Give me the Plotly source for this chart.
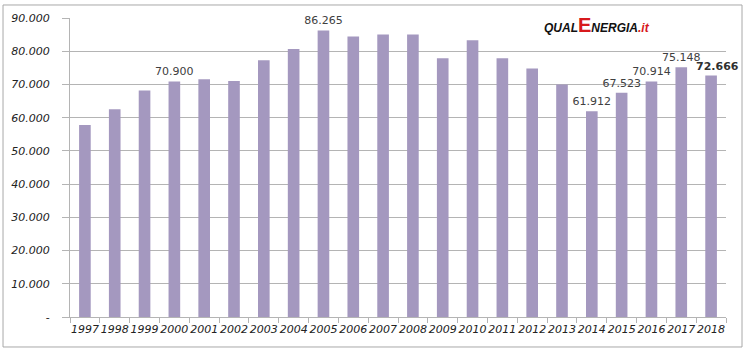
import plotly.graph_objects as go

years = [str(y) for y in range(1997, 2019)]
values = [57800, 62500, 68200, 70900, 71600, 71000, 77300, 80700, 86265, 84400,
          85000, 85000, 77900, 83300, 77900, 74800, 70000, 61912, 67523, 70914,
          75148, 72666]
labelled = ["2000", "2005", "2014", "2015", "2016", "2017"]
bold_years = ["2018"]
y_ticks = [0, 10000, 20000, 30000, 40000, 50000, 60000, 70000, 80000, 90000]


def fmt(v):
    return f"{v:,.0f}".replace(",", ".")


texts = [fmt(v) if yr in labelled else "" for yr, v in zip(years, values)]

y_ticktext = ["-" if v == 0 else f"<i>{fmt(v)}</i>" for v in y_ticks]
x_ticktext = [f"<i>{y}</i>" for y in years]

fig = go.Figure()
fig.add_trace(go.Bar(
    x=years, y=values, text=texts, textposition="outside",
    constraintext="none",
    textfont=dict(family="DejaVu Sans", size=11, color="#404040"),
    marker=dict(color="#a498bf", line=dict(width=0)),
    cliponaxis=False, hoverinfo="skip",
))

annotations = []
for i, (yr, v) in enumerate(zip(years, values)):
    if yr in bold_years:
        annotations.append(dict(
            x=i, y=v, xref="x", yref="y", text=f"<b>{fmt(v)}</b>",
            showarrow=False, yanchor="bottom", xanchor="center",
            xshift=6, yshift=1,
            font=dict(family="DejaVu Sans", size=11, color="#303030"),
        ))

annotations.append(dict(
    xref="paper", yref="paper", x=0.72, y=0.975, xanchor="left", yanchor="middle",
    showarrow=False,
    text=("<span style='font-family:Liberation Sans;font-weight:bold;font-style:italic;font-size:12px;color:#111'>QUAL</span>"
          "<span style='font-family:Liberation Sans;font-weight:bold;font-size:20px;color:#d7191c'>E</span>"
          "<span style='font-family:Liberation Sans;font-weight:bold;font-style:italic;font-size:12px;color:#111'>NERGIA</span>"
          "<span style='font-family:Liberation Sans;font-weight:bold;font-style:italic;font-size:12px;color:#d7191c'>.it</span>"),
))

grid = "#b4b4b4"
fig.update_layout(
    width=748, height=352,
    margin=dict(l=70, r=22, t=18, b=35),
    paper_bgcolor="white", plot_bgcolor="white",
    bargap=0.61, showlegend=False,
    font=dict(family="DejaVu Sans", size=11, color="#222222"),
    xaxis=dict(
        type="category", categoryorder="array", categoryarray=years,
        range=[-0.5, len(years) - 0.5],
        showgrid=False, showline=True, linecolor=grid,
        tickvals=years, ticktext=x_ticktext, tickangle=0,
        ticks="outside", tickson="boundaries", ticklen=5, tickcolor=grid,
        tickfont=dict(family="DejaVu Sans", size=11, color="#222222"),
        ticklabelstandoff=2,
    ),
    yaxis=dict(
        range=[0, 90000], tickvals=y_ticks, ticktext=y_ticktext,
        showgrid=True, gridcolor=grid, gridwidth=1,
        showline=True, linecolor=grid, zeroline=False,
        ticks="outside", ticklen=7, tickcolor=grid,
        tickfont=dict(family="DejaVu Sans", size=11, color="#222222"),
        ticklabelstandoff=10,
    ),
    shapes=[dict(type="rect", xref="paper", yref="paper",
                 x0=-0.1021, x1=1.0244, y0=-0.1003, y1=1.0435,
                 line=dict(color="#a8a8a8", width=1), layer="below")],
    annotations=annotations,
)

fig.write_html("out.html")
